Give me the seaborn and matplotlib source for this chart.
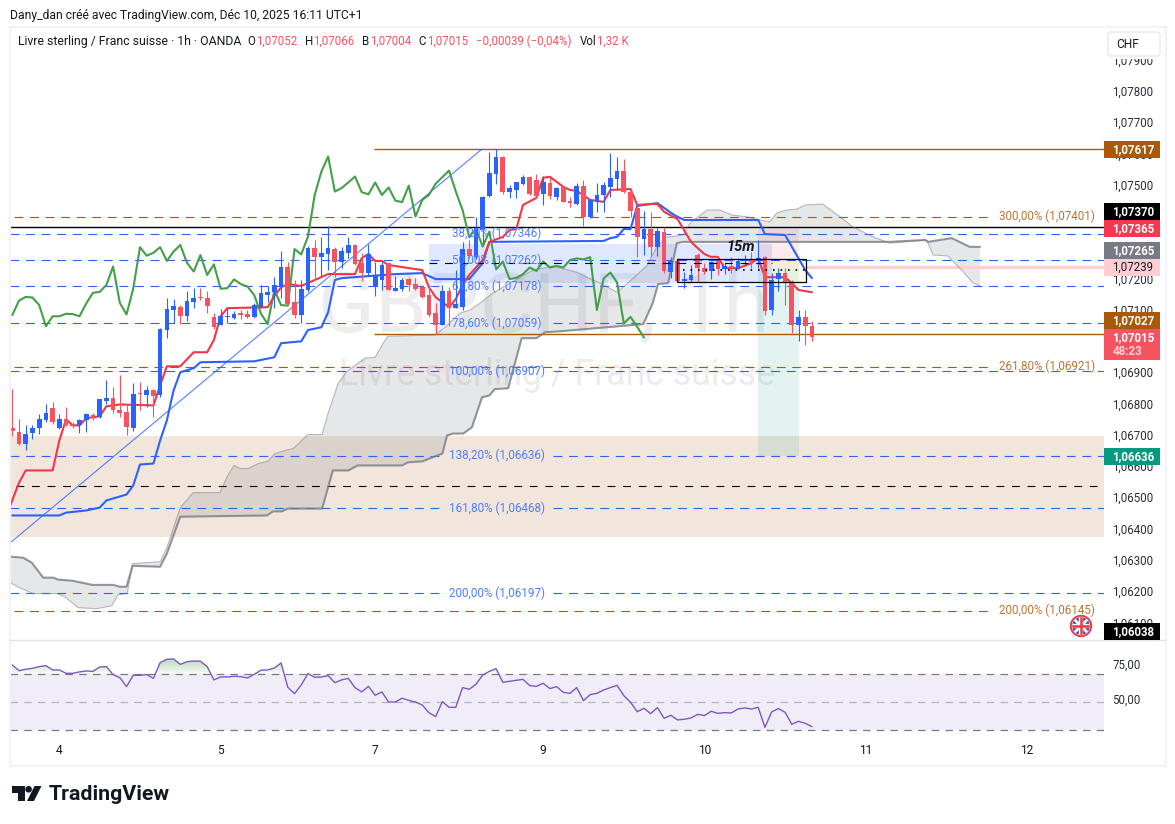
import numpy as np
import pandas as pd
import matplotlib
matplotlib.use("Agg")
import matplotlib.pyplot as plt
from matplotlib.patches import Circle, FancyBboxPatch, Polygon, Rectangle
from matplotlib.ticker import FuncFormatter
from matplotlib.transforms import ScaledTranslation
import seaborn as sns

# hourly candles
opens = [1.06723, 1.06710, 1.06670, 1.06706, 1.06722, 1.06746, 1.06785, 1.06722, 1.06749, 1.06735,
         1.06730, 1.06748, 1.06764, 1.06757, 1.06808, 1.06817, 1.06780, 1.06772, 1.06722, 1.06833,
         1.06826, 1.06842, 1.06826, 1.07036, 1.07099, 1.07108, 1.07081, 1.07125, 1.07138, 1.07137,
         1.07076, 1.07052, 1.07077, 1.07073, 1.07086, 1.07086, 1.07076, 1.07109, 1.07147, 1.07156,
         1.07174, 1.07237, 1.07124, 1.07084, 1.07163, 1.07297, 1.07269, 1.07278, 1.07294, 1.07254,
         1.07281, 1.07307, 1.07248, 1.07216, 1.07174, 1.07195, 1.07248, 1.07161, 1.07167, 1.07198,
         1.07182, 1.07174, 1.07147, 1.07089, 1.07051, 1.07159, 1.07104, 1.07109, 1.07293, 1.07270,
         1.07355, 1.07464, 1.07535, 1.07588, 1.07478, 1.07483, 1.07503, 1.07524, 1.07515, 1.07471,
         1.07505, 1.07462, 1.07492, 1.07448, 1.07438, 1.07496, 1.07395, 1.07443, 1.07467, 1.07494,
         1.07519, 1.07544, 1.07478, 1.07425, 1.07326, 1.07358, 1.07302, 1.07349, 1.07222, 1.07256,
         1.07193, 1.07195, 1.07274, 1.07232, 1.07223, 1.07257, 1.07231, 1.07240, 1.07231, 1.07257,
         1.07261, 1.07256, 1.07270, 1.07099, 1.07197, 1.07219, 1.07190, 1.07051, 1.07076, 1.07049]
highs = [1.06848, 1.06751, 1.06730, 1.06730, 1.06765, 1.06800, 1.06805, 1.06768, 1.06789, 1.06741,
         1.06751, 1.06770, 1.06770, 1.06816, 1.06874, 1.06852, 1.06890, 1.06800, 1.06866, 1.06869,
         1.06855, 1.06848, 1.07040, 1.07139, 1.07133, 1.07115, 1.07160, 1.07168, 1.07168, 1.07159,
         1.07091, 1.07101, 1.07104, 1.07096, 1.07099, 1.07099, 1.07122, 1.07179, 1.07176, 1.07206,
         1.07288, 1.07254, 1.07195, 1.07195, 1.07304, 1.07323, 1.07334, 1.07368, 1.07302, 1.07302,
         1.07331, 1.07310, 1.07280, 1.07309, 1.07254, 1.07254, 1.07250, 1.07208, 1.07200, 1.07206,
         1.07203, 1.07179, 1.07174, 1.07120, 1.07179, 1.07174, 1.07227, 1.07318, 1.07323, 1.07396,
         1.07464, 1.07603, 1.07614, 1.07592, 1.07499, 1.07510, 1.07531, 1.07528, 1.07535, 1.07528,
         1.07521, 1.07492, 1.07496, 1.07459, 1.07505, 1.07515, 1.07453, 1.07505, 1.07510, 1.07601,
         1.07590, 1.07582, 1.07483, 1.07432, 1.07416, 1.07414, 1.07360, 1.07366, 1.07268, 1.07264,
         1.07222, 1.07243, 1.07280, 1.07248, 1.07257, 1.07272, 1.07250, 1.07268, 1.07264, 1.07275,
         1.07286, 1.07323, 1.07272, 1.07216, 1.07235, 1.07232, 1.07195, 1.07099, 1.07099, 1.07063]
lows = [1.06696, 1.06667, 1.06650, 1.06687, 1.06701, 1.06741, 1.06733, 1.06719, 1.06727, 1.06723,
        1.06706, 1.06709, 1.06746, 1.06755, 1.06800, 1.06770, 1.06757, 1.06699, 1.06712, 1.06778,
        1.06789, 1.06757, 1.06821, 1.07010, 1.07056, 1.07053, 1.07065, 1.07106, 1.07131, 1.07090,
        1.07038, 1.07052, 1.07058, 1.07069, 1.07070, 1.07075, 1.07072, 1.07105, 1.07125, 1.07106,
        1.07136, 1.07115, 1.07075, 1.07059, 1.07157, 1.07200, 1.07206, 1.07227, 1.07206, 1.07235,
        1.07264, 1.07243, 1.07193, 1.07211, 1.07145, 1.07163, 1.07163, 1.07161, 1.07161, 1.07161,
        1.07163, 1.07139, 1.07077, 1.07022, 1.07051, 1.07047, 1.07104, 1.07099, 1.07264, 1.07261,
        1.07312, 1.07462, 1.07503, 1.07471, 1.07457, 1.07457, 1.07499, 1.07467, 1.07457, 1.07435,
        1.07453, 1.07451, 1.07443, 1.07430, 1.07435, 1.07368, 1.07393, 1.07411, 1.07414, 1.07462,
        1.07483, 1.07473, 1.07396, 1.07270, 1.07275, 1.07272, 1.07272, 1.07218, 1.07200, 1.07190,
        1.07171, 1.07190, 1.07190, 1.07214, 1.07198, 1.07211, 1.07214, 1.07218, 1.07229, 1.07243,
        1.07235, 1.07232, 1.07083, 1.07083, 1.07161, 1.07115, 1.07026, 1.07000, 1.06987, 1.07001]
closes = [1.06712, 1.06670, 1.06703, 1.06721, 1.06751, 1.06771, 1.06740, 1.06751, 1.06730, 1.06727,
          1.06748, 1.06765, 1.06757, 1.06813, 1.06817, 1.06778, 1.06770, 1.06725, 1.06832, 1.06829,
          1.06842, 1.06823, 1.07038, 1.07102, 1.07112, 1.07081, 1.07128, 1.07139, 1.07136, 1.07113,
          1.07045, 1.07079, 1.07079, 1.07085, 1.07084, 1.07077, 1.07115, 1.07153, 1.07156, 1.07179,
          1.07237, 1.07119, 1.07083, 1.07166, 1.07297, 1.07270, 1.07281, 1.07297, 1.07254, 1.07288,
          1.07307, 1.07247, 1.07218, 1.07277, 1.07211, 1.07243, 1.07163, 1.07169, 1.07195, 1.07179,
          1.07167, 1.07141, 1.07083, 1.07051, 1.07159, 1.07106, 1.07118, 1.07293, 1.07272, 1.07360,
          1.07462, 1.07537, 1.07588, 1.07475, 1.07489, 1.07508, 1.07524, 1.07471, 1.07465, 1.07507,
          1.07464, 1.07489, 1.07446, 1.07441, 1.07496, 1.07395, 1.07451, 1.07467, 1.07499, 1.07521,
          1.07544, 1.07475, 1.07417, 1.07331, 1.07358, 1.07302, 1.07352, 1.07224, 1.07256, 1.07193,
          1.07195, 1.07210, 1.07234, 1.07222, 1.07253, 1.07231, 1.07240, 1.07232, 1.07257, 1.07259,
          1.07252, 1.07264, 1.07097, 1.07195, 1.07216, 1.07186, 1.07051, 1.07076, 1.07049, 1.07012]

# ichimoku lines, vertices (bar number, price)
kijun_bars = [0, 7, 8, 11, 13, 14, 17, 18, 19, 21, 22, 23, 24, 25, 27, 28, 36, 39, 40, 43, 44, 46, 47, 48,
              49, 57, 61, 63, 68, 70, 71, 88, 89, 90, 91, 92, 93, 95, 96, 98, 99, 100, 111, 112, 115, 118, 119]
kijun = [1.06442, 1.06442, 1.06451, 1.06458, 1.06467, 1.06490, 1.06509, 1.06538, 1.06605, 1.06608, 1.06682,
         1.06746, 1.06842, 1.06900, 1.06913, 1.06932, 1.06935, 1.06948, 1.06993, 1.06999, 1.07035, 1.07044,
         1.07092, 1.07195, 1.07201, 1.07214, 1.07217, 1.07198, 1.07198, 1.07249, 1.07317, 1.07320, 1.07329,
         1.07333, 1.07358, 1.07358, 1.07432, 1.07438, 1.07441, 1.07410, 1.07397, 1.07387, 1.07387, 1.07342,
         1.07339, 1.07227, 1.07201]
tenkan_bars = [-0.3, 1, 2, 6, 7, 8, 9, 10, 11, 13, 14, 16, 21, 22, 23, 25, 27, 29, 30, 31, 32, 38, 39, 40, 41,
               43, 45, 47, 51, 52, 53, 54, 55, 56, 60, 61, 62, 63, 65, 66, 67, 68, 70, 71, 73, 74, 75, 76, 78,
               79, 80, 82, 83, 84, 86, 88, 89, 92, 93, 95, 96, 97, 99, 101, 102, 103, 104, 105, 106, 108, 110,
               111, 112, 115, 116, 117, 119]
tenkan = [1.06474, 1.06547, 1.06586, 1.06586, 1.06682, 1.06749, 1.06730, 1.06730, 1.06753, 1.06759, 1.06791,
          1.06797, 1.06794, 1.06858, 1.06919, 1.06919, 1.06964, 1.06964, 1.07003, 1.07079, 1.07105, 1.07108,
          1.07144, 1.07172, 1.07182, 1.07176, 1.07195, 1.07214, 1.07214, 1.07265, 1.07278, 1.07256, 1.07256,
          1.07243, 1.07230, 1.07227, 1.07172, 1.07140, 1.07108, 1.07134, 1.07179, 1.07211, 1.07259, 1.07317,
          1.07333, 1.07355, 1.07358, 1.07435, 1.07458, 1.07522, 1.07525, 1.07493, 1.07483, 1.07480, 1.07451,
          1.07445, 1.07483, 1.07486, 1.07435, 1.07438, 1.07438, 1.07413, 1.07390, 1.07317, 1.07297, 1.07278,
          1.07269, 1.07269, 1.07233, 1.07233, 1.07249, 1.07265, 1.07204, 1.07204, 1.07185, 1.07163, 1.07156]
chikou = [1.07083, 1.07129, 1.07141, 1.07139, 1.07115, 1.07047, 1.07079, 1.07079, 1.07087, 1.07086,
          1.07079, 1.07120, 1.07154, 1.07157, 1.07179, 1.07238, 1.07122, 1.07085, 1.07168, 1.07300,
          1.07273, 1.07282, 1.07300, 1.07256, 1.07286, 1.07307, 1.07250, 1.07222, 1.07275, 1.07211,
          1.07245, 1.07167, 1.07169, 1.07197, 1.07182, 1.07174, 1.07147, 1.07088, 1.07054, 1.07163,
          1.07115, 1.07113, 1.07294, 1.07277, 1.07334, 1.07467, 1.07542, 1.07590, 1.07478, 1.07489,
          1.07507, 1.07526, 1.07476, 1.07469, 1.07507, 1.07467, 1.07491, 1.07449, 1.07444, 1.07497,
          1.07398, 1.07451, 1.07467, 1.07503, 1.07524, 1.07545, 1.07478, 1.07419, 1.07332, 1.07358,
          1.07302, 1.07350, 1.07229, 1.07254, 1.07198, 1.07202, 1.07214, 1.07235, 1.07224, 1.07254,
          1.07235, 1.07240, 1.07235, 1.07259, 1.07264, 1.07261, 1.07268, 1.07099, 1.07200, 1.07219,
          1.07187, 1.07056, 1.07077, 1.07045, 1.07011]
senkou_b_bars = [-0.3, 1.6, 2.9, 4.6, 6.1, 6.8, 9, 11.9, 15, 16, 17, 17.9, 22, 23, 25, 37.9, 38.8, 40.1, 41, 46.1,
                 47.7, 50, 51.4, 58, 58.9, 61, 64, 64.7, 65.6, 67.1, 68.4, 69.9, 71, 71.8, 73.8, 75.8, 78, 79.3,
                 81.5, 93.9, 95.3, 96.1, 97.6, 98.9, 99.8, 130.6, 135.8, 136.3, 139.8, 142.5, 144]
senkou_b = [1.06310, 1.06307, 1.06291, 1.06243, 1.06243, 1.06237, 1.06233, 1.06220, 1.06220, 1.06214, 1.06214,
            1.06281, 1.06278, 1.06320, 1.06438, 1.06442, 1.06455, 1.06455, 1.06464, 1.06464, 1.06586, 1.06586,
            1.06602, 1.06602, 1.06612, 1.06615, 1.06640, 1.06698, 1.06704, 1.06704, 1.06724, 1.06820, 1.06826,
            1.06846, 1.06849, 1.07009, 1.07009, 1.07028, 1.07031, 1.07054, 1.07121, 1.07182, 1.07185, 1.07313,
            1.07317, 1.07317, 1.07323, 1.07317, 1.07329, 1.07301, 1.07301]
senkou_a_bars = [-0.3, 1.1, 3.1, 6.7, 7.8, 9.8, 12.6, 14.8, 15.7, 17.1, 17.9, 22, 23, 25, 26.9, 30.9, 31.9, 33,
                 33.9, 35.1, 36.6, 38, 39.1, 40.6, 41.8, 44, 46.1, 47, 48.5, 49.8, 52.5, 54, 55.2, 55.9, 62.9,
                 64.4, 66.6, 68.1, 69.6, 71.5, 77.5, 79, 80.5, 84, 86.4, 87.5, 90, 92.4, 94.4, 95.9, 97.4, 98.9,
                 99.8, 100.9, 103.4, 105.3, 107.1, 109.3, 112.7, 113.8, 115.3, 116.8, 118, 120.6, 123.2, 125.1,
                 128.1, 130.6, 136.1, 137, 139.2, 141, 143, 144]
senkou_a = [1.06227, 1.06211, 1.06192, 1.06192, 1.06182, 1.06147, 1.06144, 1.06153, 1.06188, 1.06192, 1.06288,
            1.06294, 1.06339, 1.06467, 1.06515, 1.06515, 1.06563, 1.06602, 1.06592, 1.06592, 1.06608, 1.06615,
            1.06640, 1.06650, 1.06656, 1.06701, 1.06701, 1.06769, 1.06865, 1.06903, 1.06945, 1.06948, 1.06993,
            1.07015, 1.07019, 1.07044, 1.07089, 1.07099, 1.07121, 1.07153, 1.07227, 1.07233, 1.07240, 1.07220,
            1.07195, 1.07185, 1.07156, 1.07201, 1.07240, 1.07301, 1.07333, 1.07336, 1.07339, 1.07378, 1.07419,
            1.07419, 1.07403, 1.07397, 1.07381, 1.07410, 1.07419, 1.07422, 1.07435, 1.07438, 1.07397, 1.07365,
            1.07333, 1.07313, 1.07323, 1.07275, 1.07272, 1.07233, 1.07185, 1.07176]

rsi = [76.7, 72.6, 73.6, 74.3, 75.5, 76.2, 73.1, 73.1, 70.7, 70.7, 71.7, 72.4, 72.1, 75.2, 75.5, 69.8, 67.6, 61.2,
       69.3, 69.3, 69.8, 67.1, 78.3, 80.7, 81.0, 77.1, 79.0, 79.5, 79.3, 75.5, 66.0, 68.1, 68.1, 68.6, 68.3, 67.4,
       70.0, 72.9, 73.1, 74.5, 78.1, 60.7, 56.2, 62.4, 70.5, 67.9, 68.1, 69.0, 64.0, 66.0, 67.1, 60.5, 57.4, 61.4,
       55.0, 57.4, 50.2, 50.2, 52.9, 51.4, 50.2, 48.1, 42.6, 39.8, 50.5, 46.4, 46.4, 60.5, 59.3, 62.9, 69.5, 72.1,
       74.0, 64.3, 65.0, 65.7, 66.4, 61.9, 61.4, 63.6, 59.8, 61.2, 57.1, 56.4, 60.5, 51.2, 55.5, 56.4, 58.8, 60.5,
       62.1, 54.8, 50.0, 43.3, 45.7, 41.9, 46.2, 38.6, 40.7, 37.4, 37.9, 38.8, 41.4, 40.5, 43.6, 42.1, 42.6, 42.4,
       45.2, 46.0, 45.2, 46.4, 32.1, 43.1, 45.5, 42.9, 34.3, 36.4, 35.0, 32.6]

fib_ratios = ["38,20%", "50,00%", "61,80%", "78,60%", "100,00%", "138,20%", "161,80%", "200,00%"]
fib_prices = [1.07346, 1.07262, 1.07178, 1.07059, 1.06907, 1.06636, 1.06468, 1.06197]
ext_ratios = ["300,00%", "261,80%", "200,00%"]
ext_labels = ["1,07401", "1,06921", "1,06145"]
ext_prices = [1.07401, 1.06921, 1.06141]
day_labels = ["4", "5", "7", "9", "10", "11", "12"]
day_bars = [7, 31, 54, 79, 103, 127, 151]
price_ticks = np.arange(1.061, 1.0795, 0.001)

# (text, centre y in px, box colour, text colour)
price_tags = [("1,07617", 149.5, "#a85a0a", "white"), ("1,07370", 211.7, "#000000", "white"),
              ("1,07365", 228.5, "#f7374f", "white"), ("1,07265", 250.7, "#787b86", "white"),
              ("1,07239", 267.6, "#ffcdd2", "#131722"), ("1,07027", 320.6, "#a85a0a", "white"),
              ("1,06636", 456.7, "#089981", "white"), ("1,06038", 631.2, "#000000", "white")]

BLUE = "#2962ff"
RED = "#f7525f"
BROWN = "#a85a0a"
READ_SHIFT = 0.00003  # values were read about a pixel low against the axis


def px_axes(fig, left, top, right, bottom):
    return fig.add_axes([left / 1175, 1 - bottom / 824, (right - left) / 1175, (bottom - top) / 824])


def draw_candles(ax, candles):
    up = candles["close"] >= candles["open"]
    colors = np.where(up, BLUE, RED)
    body_low = candles[["open", "close"]].min(axis=1)
    body = (candles["close"] - candles["open"]).abs().clip(lower=0.00004)
    ax.vlines(candles["bar"], candles["low"], candles["high"], colors=colors, linewidth=0.8, zorder=5)
    ax.bar(candles["bar"], body, bottom=body_low, width=0.7, color=colors, linewidth=0, zorder=6)


def draw_levels(ax):
    ax.hlines(1.07367, -0.34, 162.5, color="black", linewidth=1.0, zorder=3)
    ax.hlines([1.07617, 1.07024], 53.8, 162.5, color=BROWN, linewidth=1.0, zorder=3)
    for ratio, price in zip(fib_ratios, fib_prices):
        ax.hlines(price, -0.34, 63.8, color=BLUE, linewidth=0.8, linestyle=(0, (8, 6)), zorder=3)
        ax.hlines(price, 80.5, 162.5, color=BLUE, linewidth=0.8, linestyle=(0, (8, 6)), zorder=3)
        label = f"{ratio} ({price:.5f})".replace("1.", "1,")
        ax.text(72.1, price, label, color="#4d7dff", fontsize=8.4, ha="center", va="center", zorder=8)
    for ratio, label, price in zip(ext_ratios, ext_labels, ext_prices):
        ax.hlines(price, 0.3, 145.6, color=BROWN, linewidth=0.8, linestyle=(0, (8, 6)), zorder=3)
        ax.text(161.1, price, f"{ratio} ({label})", color="#bb7433", fontsize=8.4, ha="right", va="center", zorder=8)
    ax.hlines(1.06538, 0.6, 161.6, color="black", linewidth=0.8, linestyle=(0, (7, 7)), zorder=3)
    ax.hlines(1.07251, 62, 113, color="black", linewidth=0.8, linestyle=(0, (7, 7)), zorder=7)
    ax.hlines(1.0723, 99.8, 118, color="black", linewidth=1.2, linestyle=(0, (1, 3.5)), zorder=7)
    ax.hlines(1.07239, 118.1, 162.5, color="#ffcdd2", linewidth=2.4, zorder=3)


def draw_zones(ax):
    ax.axhspan(1.06377, 1.06699, color="#f2e6dc", linewidth=0, zorder=1)
    ax.add_patch(Rectangle((62, 1.07188), 51, 0.00125, color=BLUE, alpha=0.14, linewidth=0, zorder=2))
    ax.add_patch(Rectangle((111, 1.07239), 6.1, 0.00126, color="#f23645", alpha=0.10, linewidth=0, zorder=2))
    ax.add_patch(Rectangle((111, 1.06636), 6.1, 0.00603, color="#089981", alpha=0.11, linewidth=0, zorder=2))
    ax.add_patch(Rectangle((113, 1.07193), 5.1, 0.00071, facecolor="#ffeb3b", alpha=0.10, linewidth=0, zorder=2))
    ax.add_patch(Rectangle((98.9, 1.07193), 19.2, 0.00071, fill=False, edgecolor="black", linewidth=0.9, zorder=7))
    ax.plot([-0.34, 69.9], [1.06357, 1.07617], color=BLUE, linewidth=0.8, alpha=0.8, zorder=4)


def draw_ichimoku(ax):
    a_bars, a = np.array(senkou_a_bars), np.array(senkou_a) + READ_SHIFT
    b_bars, b = np.array(senkou_b_bars), np.array(senkou_b) + READ_SHIFT
    ax.fill(np.r_[a_bars, b_bars[::-1]], np.r_[a, b[::-1]], color="#787b86", alpha=0.18, linewidth=0, zorder=3)
    sns.lineplot(x=a_bars, y=a, ax=ax, color="#787b86", alpha=0.5, linewidth=0.8, sort=False, errorbar=None, zorder=4)
    sns.lineplot(x=b_bars, y=b, ax=ax, color="#787b86", alpha=0.8, linewidth=1.5, sort=False, errorbar=None, zorder=4)
    sns.lineplot(x=np.arange(len(chikou)), y=np.array(chikou) + READ_SHIFT, ax=ax, color="#43a047", linewidth=1.5,
                 sort=False, errorbar=None, zorder=4)
    sns.lineplot(x=kijun_bars, y=np.array(kijun) + READ_SHIFT, ax=ax, color=BLUE, linewidth=1.5,
                 sort=False, errorbar=None, zorder=4)
    sns.lineplot(x=tenkan_bars, y=np.array(tenkan) + READ_SHIFT, ax=ax, color="#f23645", linewidth=1.5,
                 sort=False, errorbar=None, zorder=4)


def draw_rsi(ax):
    bars = np.arange(len(rsi))
    values = np.array(rsi)
    ax.axhspan(30, 70, color="#7e57c2", alpha=0.1, linewidth=0, zorder=1)
    for level, dash, color in [(70, (6, 5), "#787b86"), (50, (6, 5), "#b2b5be"), (30, (6, 5), "#787b86")]:
        ax.axhline(level, color=color, linewidth=0.9, linestyle=(0, dash), zorder=2)
    for floor in [70, 71.5, 73, 74.5, 76, 77.5, 79]:
        ax.fill_between(bars, floor, values, where=values >= floor, interpolate=True,
                        color="#4caf50", alpha=0.055, linewidth=0, zorder=2)
    sns.lineplot(x=bars, y=values, ax=ax, color="#7e57c2", linewidth=1.0, sort=False, errorbar=None, zorder=3)


def draw_overlay(ov):
    ov.add_patch(Rectangle((9.5, 26.5), 1156, 739, fill=False, edgecolor="#f0f3fa", linewidth=1.6))
    ov.plot([10, 1165], [639.5, 639.5], color="#e0e3eb", linewidth=1.0)

    ov.text(10, 15, "Dany_dan créé avec TradingView.com, Déc 10, 2025 16:11 UTC+1", fontsize=8.7,
            color="#131722", va="center")
    ov.text(18, 41, "Livre sterling / Franc suisse · 1h · OANDA", fontsize=8.8, color="#131722", va="center")
    legend = [(247, "O", "#131722"), (256, "1,07052", RED), (305, "H", "#131722"), (313, "1,07066", RED),
              (362, "B", "#131722"), (370, "1,07004", RED), (418, "C", "#131722"), (427, "1,07015", RED),
              (476, "−0,00039 (−0,04%)", RED), (580, "Vol", "#131722"), (597, "1,32 K", RED)]
    for x, text, color in legend:
        ov.text(x, 41, text, fontsize=8.3, color=color, va="center")

    ov.add_patch(Rectangle((1104, 28), 60, 31, facecolor="white", linewidth=0, zorder=2))
    ov.add_patch(FancyBboxPatch((1108, 32), 52, 24, boxstyle="round,pad=0,rounding_size=3", facecolor="white",
                                edgecolor="#e0e3eb", linewidth=0.8, zorder=3))
    ov.text(1116, 44.5, "CHF", fontsize=8.6, color="#131722", va="center", zorder=4)

    for text, y, box, color in price_tags:
        ov.add_patch(Rectangle((1104, y - 8.5), 56, 17, facecolor=box, linewidth=0, zorder=3))
        weight = "normal" if color != "white" else "bold"
        ov.text(1112.5, y, text, fontsize=8.3, color=color, weight=weight, va="center", zorder=4)
    ov.add_patch(Rectangle((1104, 329), 56, 31, facecolor=RED, linewidth=0, zorder=3))
    ov.text(1112.5, 337.5, "1,07015", fontsize=8.3, color="white", weight="bold", va="center", zorder=4)
    ov.text(1112.5, 351.5, "48:23", fontsize=8.3, color="#ffd5d8", weight="bold", va="center", zorder=4)

    ov.text(741, 247, "15m", fontsize=10.5, color="#131722", style="italic", weight="bold",
            ha="center", va="center", zorder=4)

    # round flag next to the scale
    disc = Circle((1081, 626), 8.8, facecolor="#1f4fa8", edgecolor="none", zorder=3)
    ov.add_patch(disc)
    for (x0, y0, x1, y1), width, color in [((1073, 618, 1089, 634), 2.0, "white"), ((1073, 634, 1089, 618), 2.0, "white"),
                                           ((1072, 626, 1090, 626), 3.2, "white"), ((1081, 617, 1081, 635), 3.2, "white"),
                                           ((1072, 626, 1090, 626), 1.8, "#f23645"), ((1081, 617, 1081, 635), 1.8, "#f23645")]:
        line, = ov.plot([x0, x1], [y0, y1], color=color, linewidth=width, zorder=4)
        line.set_clip_path(disc)
    ov.add_patch(Circle((1081, 626), 10.2, fill=False, edgecolor="#f23645", linewidth=1.4, zorder=5))

    # logo
    ov.add_patch(Polygon([(12, 786), (24.5, 786), (24.5, 801), (18, 801), (18, 792.5), (12, 792.5)], color="#131722", linewidth=0))
    ov.add_patch(Circle((28.6, 789.3), 3.3, color="#131722", linewidth=0))
    ov.add_patch(Polygon([(34.5, 786), (41.5, 786), (34, 801), (27, 801)], color="#131722", linewidth=0))
    ov.text(49, 794.5, "TradingView", fontsize=15.4, color="#131722", weight="bold", va="center")


def plot():
    sns.set_theme(style="white")
    plt.rcParams["font.family"] = ["Roboto", "DejaVu Sans"]

    fig = plt.figure(figsize=(11.75, 8.24), dpi=100, facecolor="white")
    ax = px_axes(fig, 10, 28, 1104, 639.5)
    ax_rsi = px_axes(fig, 10, 640, 1104, 740)
    ov = fig.add_axes([0, 0, 1, 1], zorder=10, facecolor="none")
    ov.set_xlim(0, 1175)
    ov.set_ylim(824, 0)
    ov.axis("off")

    candles = pd.DataFrame({"bar": np.arange(len(opens)), "open": opens, "high": highs, "low": lows, "close": closes})
    candles[["open", "high", "low", "close"]] += READ_SHIFT

    # big symbol text behind everything
    ax.text(79, 1.07108, "GBPCHF, 1h", fontsize=60, color="#787b86", alpha=0.13, ha="center", va="center", zorder=0)
    ax.text(81, 1.06895, "Livre sterling / Franc suisse", fontsize=25.7, color="#787b86", alpha=0.14,
            ha="center", va="center", zorder=0)

    draw_zones(ax)
    draw_ichimoku(ax)
    draw_levels(ax)
    draw_candles(ax, candles)
    draw_rsi(ax_rsi)

    for axis in (ax, ax_rsi):
        axis.set_xlim(-0.342, 162.46)
        axis.set_xlabel("")
        axis.set_ylabel("")
        sns.despine(ax=axis, left=True, bottom=True, right=True, top=True)
        axis.yaxis.tick_right()
        axis.tick_params(axis="y", length=0, pad=6, labelsize=8.3, labelcolor="#2a2e39")

    ax.set_ylim(1.060483, 1.08004)
    ax.set_xticks([])
    ax.set_yticks(price_ticks)
    ax.yaxis.set_major_formatter(FuncFormatter(lambda v, pos: f"{v:.5f}".replace(".", ",")))

    ax_rsi.set_ylim(23.07, 94.5)
    ax_rsi.set_yticks([50, 75])
    ax_rsi.yaxis.set_major_formatter(FuncFormatter(lambda v, pos: f"{v:.2f}".replace(".", ",")))
    ax_rsi.set_xticks(day_bars)
    ax_rsi.set_xticklabels(day_labels)
    ax_rsi.tick_params(axis="x", length=0, pad=3, labelsize=8.6, labelcolor="#131722")

    # the scale labels sit a little above their value
    for axis, lift in ((ax, 1.0), (ax_rsi, 3.5)):
        for label in axis.get_yticklabels():
            label.set_transform(label.get_transform() + ScaledTranslation(0, lift / 100, fig.dpi_scale_trans))

    draw_overlay(ov)

    fig.savefig("out.png", dpi=100)
    plt.close(fig)


if __name__ == "__main__":
    plot()
